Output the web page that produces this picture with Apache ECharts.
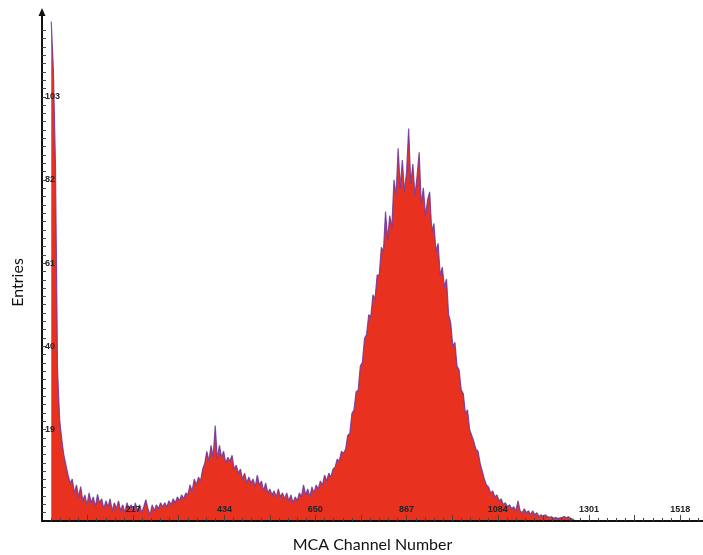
<!DOCTYPE html>
<html>
<head>
<meta charset="utf-8">
<title>MCA spectrum</title>
<script src="https://cdn.jsdelivr.net/npm/echarts@6/dist/echarts.min.js"></script>
<style>
  html, body { margin: 0; padding: 0; background: #ffffff; }
  #chart { width: 703px; height: 555px; }
</style>
</head>
<body>
<div id="chart"></div>
<script>
// Histogram of MCA channels: one count per bin, bins are 5 channels wide
const channelStart = 22;
const channelWidth = 5;
const counts = [
  122, 110, 86, 34, 21.5, 16.5, 12.5, 10, 7.5, 5.5,
  6.5, 3, 5, 2, 4.6, 1, 2.5, 0, 3, 0.5,
  2, -0.5, 2.6, 0.5, 1.5, -1, 1, -0.5, 1.5, -1.5,
  0.5, -1, 1, -1.5, 0, -2, 0.5, -1, 0, -2,
  0.5, -1.5, 0, -2, -0.5, 1.3, -1, -2.5, 0, -1.5,
  0, -1, 0.5, -0.5, 0.5, -0.5, 1, 0, 1.5, 0.5,
  2, 1, 2.5, 1.5, 3, 2.5, 5, 3.5, 6.5, 5,
  7, 6, 9, 10.5, 13.5, 11, 15, 12, 20, 11.5,
  15, 12, 13.5, 10.5, 12, 11, 12.5, 9, 10, 8,
  9, 6.5, 8, 5.5, 7, 5.5, 6.5, 4.5, 7.5, 5,
  6, 3.5, 5.5, 3, 4, 2.5, 3.5, 2, 4, 2,
  3, 1.5, 3, 1, 2.5, 0.5, 2, 1, 3, 2,
  5, 2.5, 4, 2, 4.5, 3, 5, 4, 6, 5,
  7.5, 6, 8, 7, 9, 9.5, 11.5, 11, 13.5, 13,
  14, 17.5, 18, 23, 24, 28.5, 29, 35, 36, 42,
  43, 48, 47.5, 53, 52, 58, 58, 65, 64, 74,
  67, 73, 70, 82, 78, 90, 80, 87, 79, 84,
  95, 81, 86, 78, 83, 89, 76, 80, 73, 77,
  79, 69, 71, 64, 66, 58, 60, 55, 57, 48,
  46, 40, 41, 35, 34, 29, 28, 23, 24, 19,
  17.5, 16, 14, 13.5, 10.5, 8.5, 6.5, 5, 4.5, 3,
  3.5, 2, 2.5, 1, 1.5, 0, 0.5, -0.5, 0, -1,
  -0.5, -1.5, 1, -1.5, -2, -1, -2, -1.5, -2.5, -1.5,
  -2.5, -2, -3, -2.5, -3, -2.5, -3, -3.2, -3, -3.4,
  -3.2, -3.5, -3.3, -3.2, -3, -3.3, -3, -3.4, -3.6, -4.1
];
const xTickLabels = [217, 434, 650, 867, 1084, 1301, 1518];
const yTickLabels = [19, 40, 61, 82, 103];

const xMin = 0, xMax = 1572;
const yMin = -4.1, yMax = 124.4;
const xMinorStep = 21.68, xMidStep = 108.4, yMinorStep = 2.1;

const points = counts.map((c, i) => [channelStart + i * channelWidth, c]);

const xMinorTicks = [];
for (let v = xMinorStep; v < xMax; v += xMinorStep) xMinorTicks.push(+v.toFixed(2));
const xMidTicks = [];
for (let v = xMidStep; v < xMax; v += xMidStep) xMidTicks.push(+v.toFixed(2));
const yTicks = [];
for (let v = yMin + yMinorStep; v <= 120; v += yMinorStep) yTicks.push(+v.toFixed(2));

const labelFont = {
  fontFamily: '"Liberation Sans", Arial, sans-serif',
  fontSize: 9,
  fontWeight: 'bold',
  color: '#222',
  formatter: (v) => String(v)
};

const chart = echarts.init(document.getElementById('chart'));
chart.setOption({
  animation: false,
  backgroundColor: '#ffffff',
  grid: { left: 42, right: 0, top: 12, bottom: 34, containLabel: false, outerBoundsMode: 'none' },
  xAxis: [
    {
      type: 'value', min: xMin, max: xMax, position: 'bottom', z: 5,
      name: 'MCA Channel Number', nameLocation: 'middle', nameGap: 16,
      nameTextStyle: { fontFamily: 'Lato, "Noto Sans", sans-serif', fontSize: 16, color: '#111' },
      axisLine: { onZero: false, lineStyle: { color: '#111', width: 2 } },
      axisTick: { inside: true, length: 3, customValues: xMinorTicks, lineStyle: { color: '#444', width: 1 } },
      axisLabel: Object.assign({ inside: true, margin: 7, customValues: xTickLabels }, labelFont),
      splitLine: { show: false }
    },
    {
      type: 'value', min: xMin, max: xMax, position: 'bottom', z: 5,
      axisLine: { show: false, onZero: false },
      axisTick: { inside: true, length: 6, customValues: xMidTicks, lineStyle: { color: '#444', width: 1 } },
      axisLabel: { show: false },
      splitLine: { show: false }
    }
  ],
  yAxis: {
    type: 'value', min: yMin, max: yMax, z: 5,
    name: 'Entries', nameLocation: 'middle', nameGap: 16, nameRotate: 90,
    nameTextStyle: {
      fontFamily: 'Lato, "Noto Sans", sans-serif', fontSize: 16, color: '#111',
      padding: [0, 32, 0, 0]
    },
    axisLine: {
      onZero: false, symbol: ['none', 'triangle'], symbolSize: [7, 8],
      lineStyle: { color: '#111', width: 2 }
    },
    axisTick: { inside: true, length: 4, customValues: yTicks, lineStyle: { color: '#444', width: 1 } },
    axisLabel: Object.assign({ inside: true, margin: 3, customValues: yTickLabels }, labelFont),
    splitLine: { show: false }
  },
  series: [{
    type: 'line',
    xAxisIndex: 0,
    data: points,
    showSymbol: false,
    clip: true,
    lineStyle: { color: 'rgba(112, 52, 160, 0.85)', width: 1.2 },
    areaStyle: { color: '#e8321f', opacity: 1, origin: 'start' },
    z: 2
  }]
});
</script>
</body>
</html>
